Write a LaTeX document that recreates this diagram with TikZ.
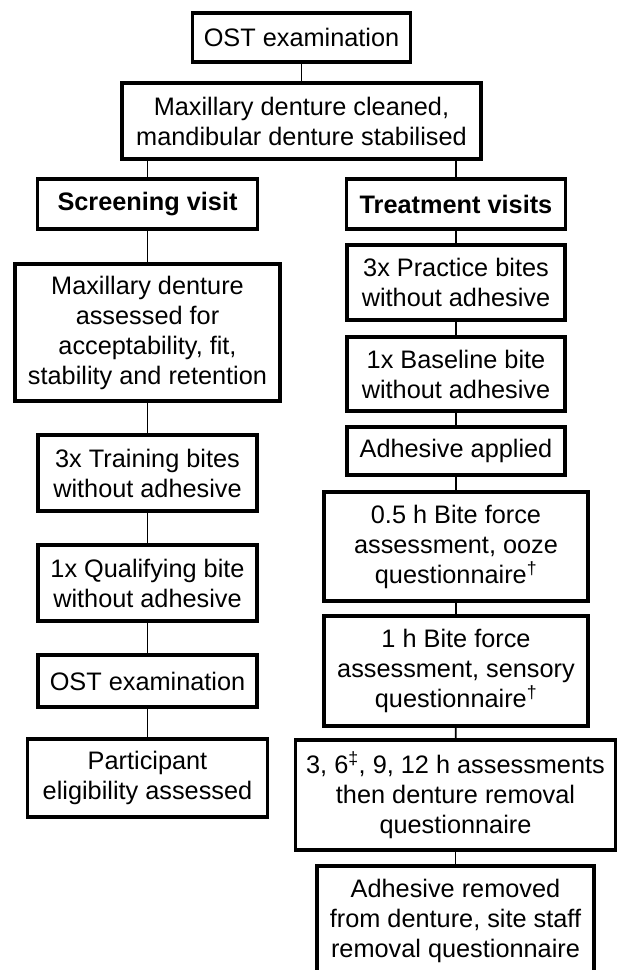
\documentclass[tikz,border=0pt]{standalone}
\usepackage{fontspec}
\setmainfont{Liberation Sans}
\usepackage{tikz}
\usetikzlibrary{positioning}

\begin{document}
\begin{tikzpicture}[x=1pt, y=-1pt,
    box/.style={draw, line width=3.2pt, align=center, inner sep=0pt,
        font=\fontsize{25.3}{30}\selectfont},
    link/.style={line width=1.6pt}]
\useasboundingbox (0,0) rectangle (618,970);

% common start
\node[box, minimum width=218pt, minimum height=49pt] (ost) at (301.5,37.5) {OST examination};
\node[box, minimum width=359pt, minimum height=76pt] (clean) at (301.5,121) {Maxillary denture cleaned,\\mandibular denture stabilised};
\draw[link] (ost) -- (clean);

% Screening visit
\node[box, minimum width=220pt, minimum height=50pt] (screen) at (147.5,204) {\bfseries Screening visit};
\node[box, minimum width=265pt, minimum height=137pt] (assess) at (147.5,332.5) {Maxillary denture\\assessed for\\acceptability, fit,\\stability and retention};
\node[box, minimum width=219pt, minimum height=76pt] (train) at (147.5,473) {3x Training bites\\without adhesive};
\node[box, minimum width=219pt, minimum height=76pt] (qual) at (147.5,583) {1x Qualifying bite\\without adhesive};
\node[box, minimum width=219pt, minimum height=52pt] (ostb) at (147.5,681) {OST examination};
\node[box, minimum width=240pt, minimum height=78pt] (elig) at (147.5,778) {Participant\\eligibility assessed};
\draw[link] (screen.north |- clean.south) -- (screen.north);
\draw[link] (screen) -- (assess);
\draw[link] (assess) -- (train);
\draw[link] (train) -- (qual);
\draw[link] (qual) -- (ostb);
\draw[link] (ostb) -- (elig);

% Treatment visits
\node[box, minimum width=219pt, minimum height=50pt] (treat) at (456,204) {\bfseries Treatment visits};
\node[box, minimum width=218pt, minimum height=75pt] (practice) at (456,282.5) {3x Practice bites\\without adhesive};
\node[box, minimum width=218pt, minimum height=74pt] (base) at (456,374) {1x Baseline bite\\without adhesive};
\node[box, minimum width=218pt, minimum height=48pt] (applied) at (456,451) {Adhesive applied};
\node[box, minimum width=264pt, minimum height=109pt] (half) at (456,546.5) {0.5 h Bite force\\assessment, ooze\\questionnaire\textsuperscript{†}};
\node[box, minimum width=264pt, minimum height=110pt] (one) at (456,671) {1 h Bite force\\assessment, sensory\\questionnaire\textsuperscript{†}};
\node[box, minimum width=320pt, minimum height=110pt] (later) at (455.5,795) {3, 6\textsuperscript{‡}, 9, 12 h assessments\\then denture removal\\questionnaire};
\node[box, minimum width=277pt, minimum height=110pt] (removed) at (455.5,921) {Adhesive removed\\from denture, site staff\\removal questionnaire};
\draw[link] (treat.north |- clean.south) -- (treat.north);
\draw[link] (treat) -- (practice);
\draw[link] (practice) -- (base);
\draw[link] (base) -- (applied);
\draw[link] (applied) -- (half);
\draw[link] (half) -- (one);
\draw[link] (one) -- (later);
\draw[link] (later) -- (removed);
\end{tikzpicture}
\end{document}
